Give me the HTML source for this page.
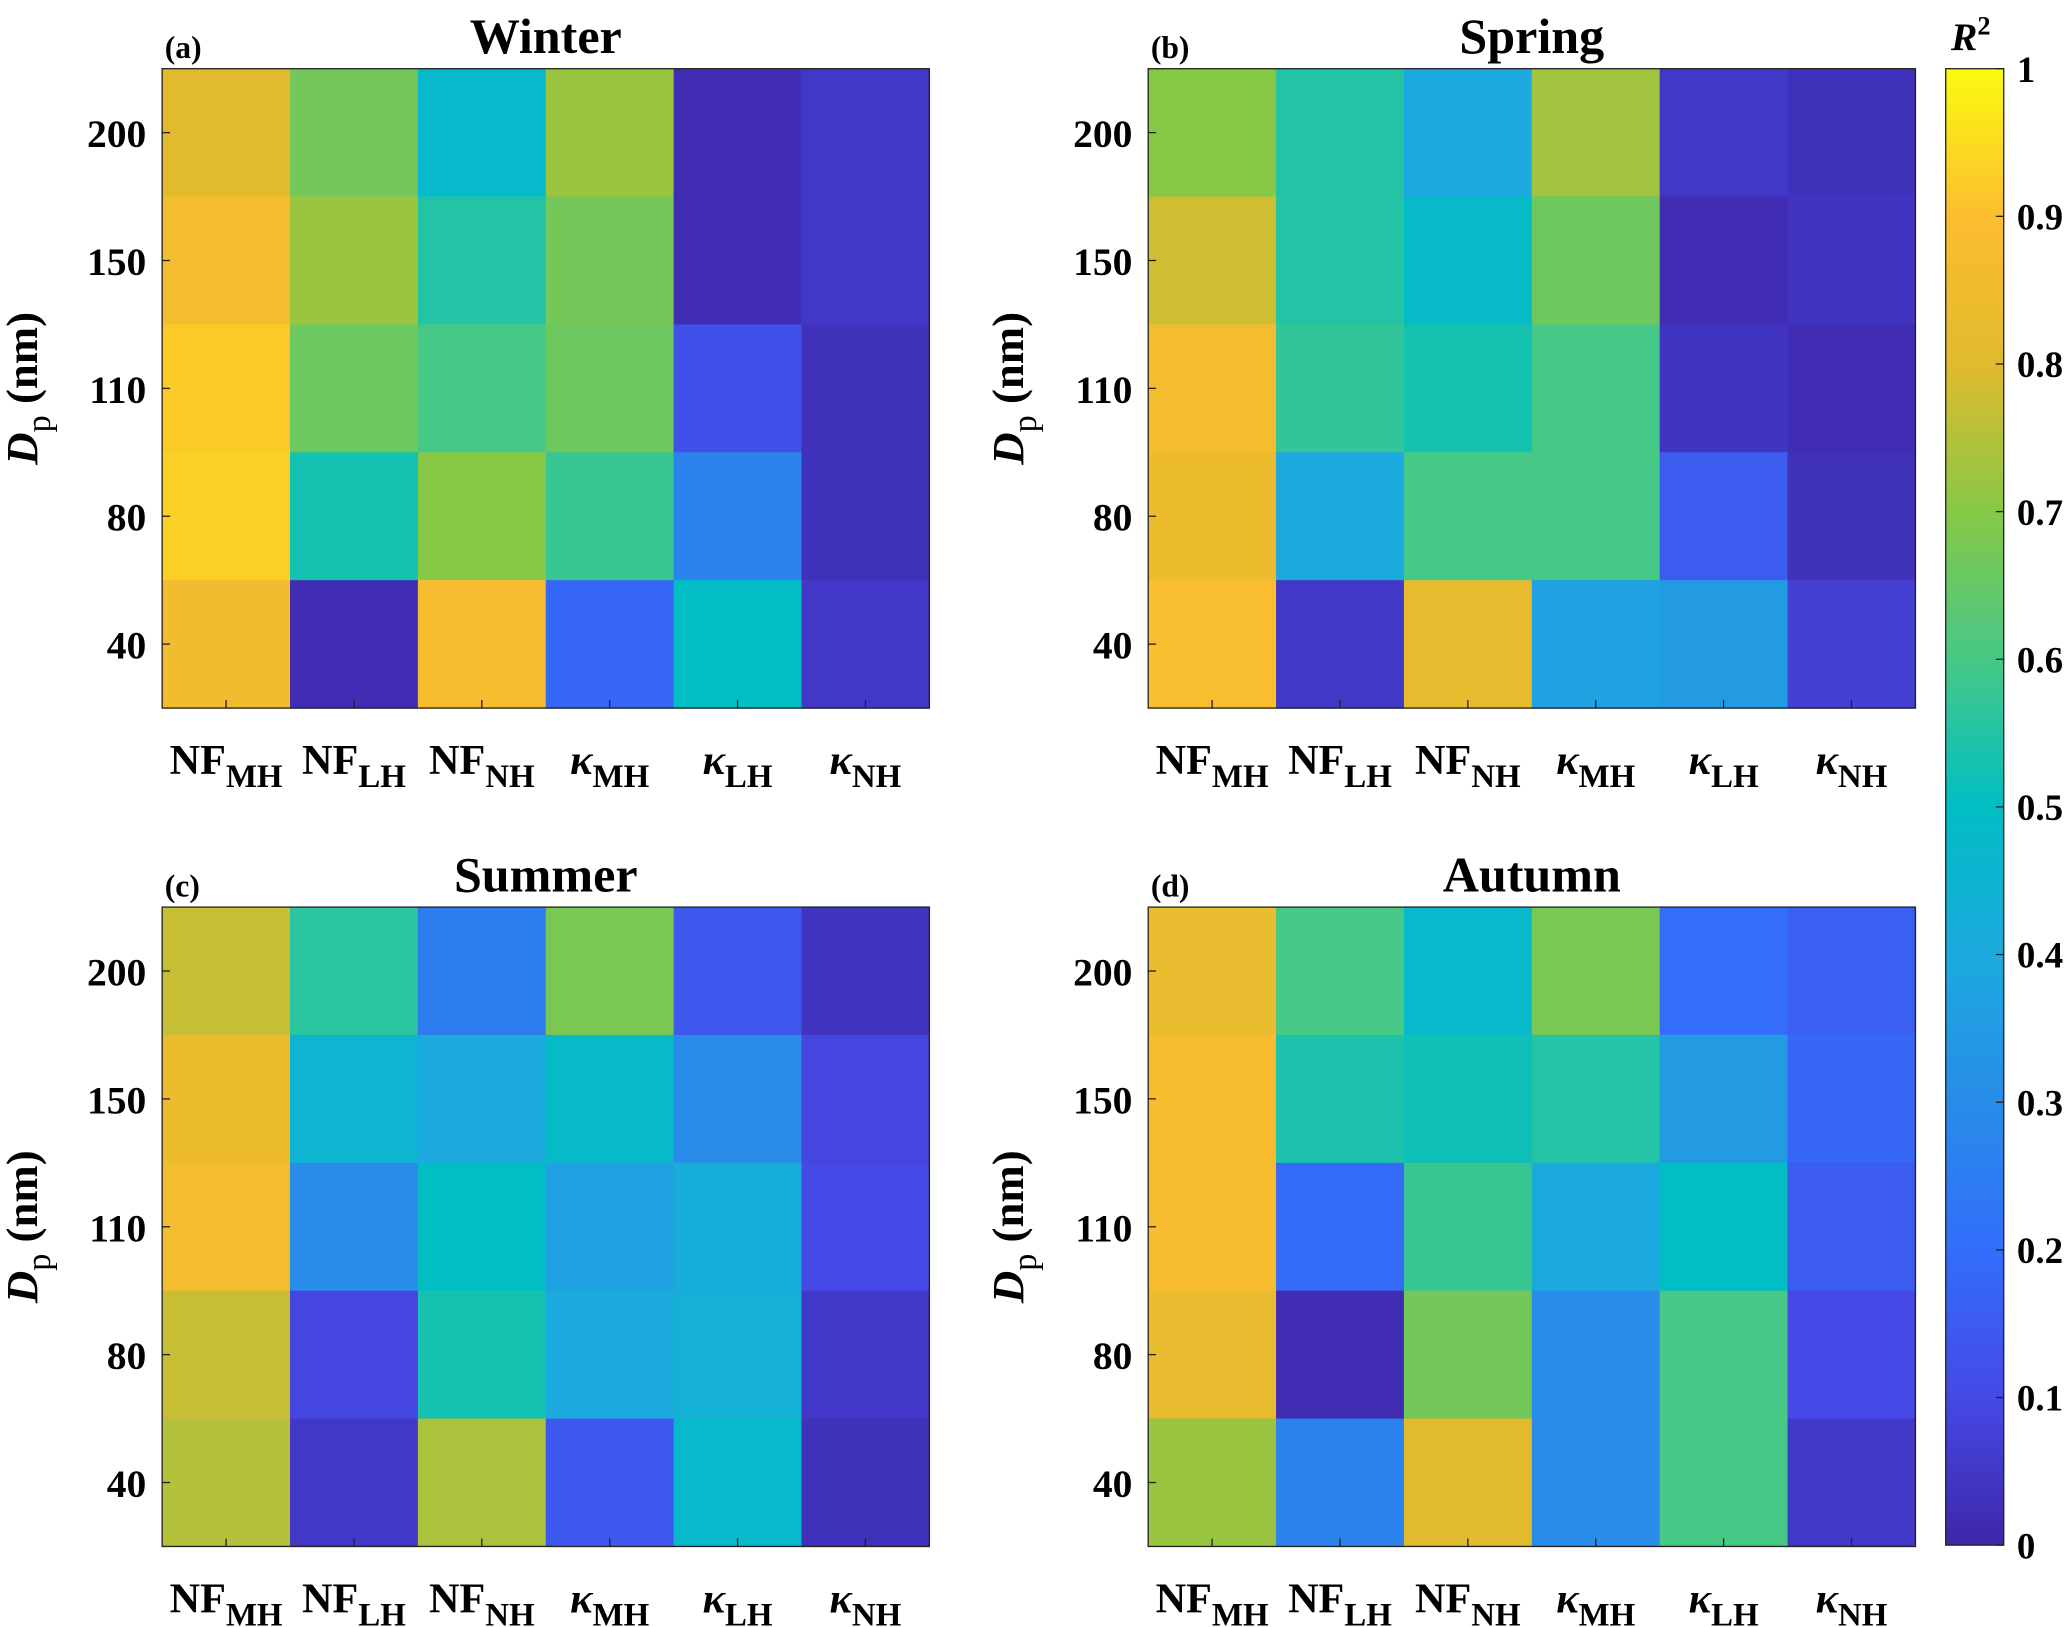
<!DOCTYPE html>
<html><head><meta charset="utf-8">
<style>
html,body{margin:0;padding:0;background:#fff;}
svg{display:block;}
text{font-family:"Liberation Serif",serif;font-weight:bold;fill:#000;}
</style></head>
<body>
<svg id="fig" width="2067" height="1627" viewBox="0 0 1568 1234" xmlns="http://www.w3.org/2000/svg"></svg>
<script>
const seasons = ["Winter","Spring","Summer","Autumn"];
const panelLetters = ["(a)","(b)","(c)","(d)"];
const sizeLabels = ["200","150","110","80","40"];
const methodMain = ["NF","NF","NF","κ","κ","κ"];
const methodSub = ["MH","LH","NH","MH","LH","NH"];
const winterValues = [
 [0.80,0.67,0.47,0.72,0.02,0.05],
 [0.87,0.72,0.55,0.67,0.02,0.05],
 [0.92,0.66,0.60,0.66,0.12,0.03],
 [0.93,0.53,0.70,0.58,0.27,0.03],
 [0.86,0.02,0.88,0.18,0.50,0.05]];
const springValues = [
 [0.70,0.55,0.40,0.73,0.05,0.03],
 [0.78,0.55,0.48,0.66,0.02,0.04],
 [0.87,0.57,0.53,0.60,0.04,0.02],
 [0.84,0.40,0.60,0.60,0.15,0.03],
 [0.89,0.05,0.82,0.37,0.35,0.07]];
const summerValues = [
 [0.77,0.56,0.25,0.68,0.14,0.04],
 [0.84,0.45,0.40,0.48,0.30,0.09],
 [0.87,0.30,0.50,0.37,0.42,0.10],
 [0.77,0.09,0.53,0.40,0.43,0.05],
 [0.75,0.05,0.74,0.14,0.47,0.03]];
const autumnValues = [
 [0.83,0.60,0.47,0.68,0.20,0.16],
 [0.88,0.54,0.52,0.55,0.35,0.18],
 [0.88,0.19,0.58,0.40,0.50,0.15],
 [0.83,0.02,0.67,0.30,0.60,0.10],
 [0.72,0.27,0.80,0.30,0.60,0.05]];
const colorbarTicks = [0,0.1,0.2,0.3,0.4,0.5,0.6,0.7,0.8,0.9,1];
const colorbarLabels = ["0","0.1","0.2","0.3","0.4","0.5","0.6","0.7","0.8","0.9","1"];

const allValues=[winterValues,springValues,summerValues,autumnValues];
const parula=[[62,38,168],[70,73,230],[50,110,250],[40,140,232],[28,170,222],[0,190,195],[70,200,135],[135,200,70],[225,186,45],[252,190,48],[249,251,14]];
function color(v){v=Math.max(0,Math.min(1,v));const t=v*10,i=Math.min(9,Math.floor(t)),f=t-i;
 const a=parula[i],b=parula[i+1];return `rgb(${a.map((c,k)=>Math.round(c+(b[k]-c)*f)).join(',')})`;}
const NS="http://www.w3.org/2000/svg";
const svg=document.getElementById('fig');
function el(tag,attrs,parent){const e=document.createElementNS(NS,tag);for(const k in attrs)e.setAttribute(k,attrs[k]);(parent||svg).appendChild(e);return e;}
const origins=[[123,52],[871,52],[123,688],[871,688]];
const W=582,H=485,nc=6,nr=5,cw=W/nc,rh=H/nr;
origins.forEach((o,p)=>{
 const g=el('g',{});
 
 
 const xS=c=>o[0]+c*cw, yS=r=>o[1]+r*rh;
 allValues[p].forEach((row,r)=>row.forEach((v,c)=>{
  const rc=el('rect',{x:xS(c),y:yS(r),width:cw+0.5,height:rh+0.5,fill:color(v)},g);
  
  
 }));
 el('rect',{x:o[0],y:o[1],width:W,height:H,fill:'none',stroke:'#222','stroke-width':1},g);
 const t=el('text',{x:o[0]+W/2,y:o[1]-12,'text-anchor':'middle','font-size':38},g);t.textContent=seasons[p];
 
 const l=el('text',{x:o[0]+2,y:o[1]-8,'font-size':24},g);l.textContent=panelLetters[p];
 
 sizeLabels.forEach((s,r)=>{
  const y=yS(r)+rh/2;
  el('line',{x1:o[0],x2:o[0]+6,y1:y,y2:y,stroke:'#222'},g);
  const tt=el('text',{x:o[0]-12,y:y+11,'text-anchor':'end','font-size':30},g);tt.textContent=s;
  
 });
 methodMain.forEach((m,c)=>{
  const x=xS(c)+cw/2;
  el('line',{x1:x,x2:x,y1:o[1]+H,y2:o[1]+H-6,stroke:'#222'},g);
  const tt=el('text',{x:x,y:o[1]+H+50,'text-anchor':'middle','font-size':32},g);
  
  const a=el('tspan',{'font-style':m==='κ'?'italic':'normal'},tt);a.textContent=m;
  const b=el('tspan',{dy:10,'font-size':25},tt);b.textContent=methodSub[c];
 });
 const yl=el('text',{transform:`translate(${o[0]-95},${o[1]+H/2}) rotate(-90)`,'text-anchor':'middle','font-size':34},g);
 
 const d=el('tspan',{'font-style':'italic'},yl);d.textContent='D';
 const pp=el('tspan',{dy:10,'font-size':26,'font-weight':'normal'},yl);pp.textContent='p';
 const nm=el('tspan',{dy:-10},yl);nm.textContent=' (nm)';
});
const cb=el('g',{});

const cx=1476,cy0=52,cy1=1172,cwid=44;
const defs=el('defs',{},cb);
const grad=el('linearGradient',{id:'pg',x1:0,y1:1,x2:0,y2:0},defs);
for(let i=0;i<=40;i++){el('stop',{offset:i/40,'stop-color':color(i/40)},grad);}
el('rect',{x:cx,y:cy0,width:cwid,height:cy1-cy0,fill:'url(#pg)',stroke:'#222'},cb);
const cbY=v=>cy1-v*(cy1-cy0);
colorbarTicks.forEach((v,i)=>{
 const y=cbY(v);
 el('line',{x1:cx+cwid-6,x2:cx+cwid,y1:y,y2:y,stroke:'#222'},cb);
 const t=el('text',{x:cx+cwid+10,y:y+10,'font-size':28},cb);t.textContent=colorbarLabels[i];
 
});
const rt=el('text',{x:cx+4,y:cy0-14,'font-size':30},cb);

const r1=el('tspan',{'font-style':'italic'},rt);r1.textContent='R';
const r2=el('tspan',{dy:-12,'font-size':20},rt);r2.textContent='2';
</script>
</body></html>
